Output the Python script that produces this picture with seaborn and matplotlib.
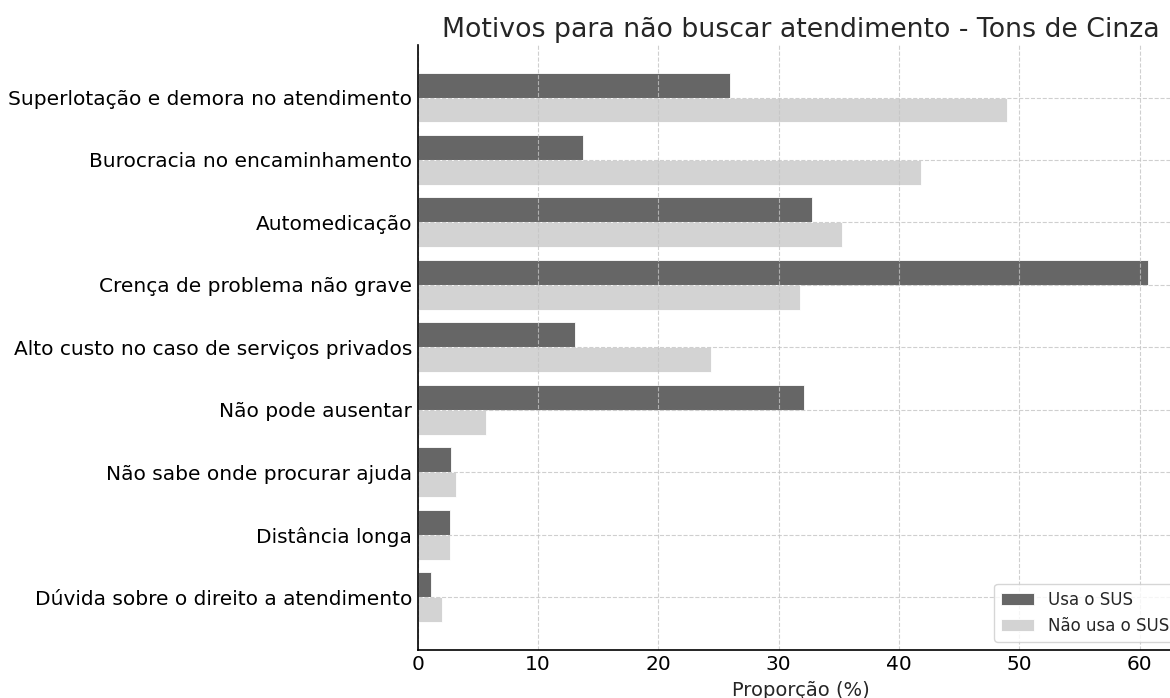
import matplotlib
matplotlib.use("Agg")
import matplotlib.pyplot as plt
import seaborn as sns
import pandas as pd

categories = [
    "Superlotação e demora no atendimento",
    "Burocracia no encaminhamento",
    "Automedicação",
    "Crença de problema não grave",
    "Alto custo no caso de serviços privados",
    "Não pode ausentar",
    "Não sabe onde procurar ajuda",
    "Distância longa",
    "Dúvida sobre o direito a atendimento",
]
usa_sus = [26.0, 13.7, 32.8, 60.7, 13.1, 32.1, 2.8, 2.7, 1.1]
nao_usa_sus = [49.0, 41.8, 35.3, 31.8, 24.4, 5.7, 3.2, 2.7, 2.0]
series_names = ["Usa o SUS", "Não usa o SUS"]
colors = ["#666666", "#d3d3d3"]

df = pd.DataFrame({
    "Motivo": categories * 2,
    "Proporção": usa_sus + nao_usa_sus,
    "Grupo": [series_names[0]] * len(categories) + [series_names[1]] * len(categories),
})

sns.set_style("white")
plt.rcParams["font.family"] = ["DejaVu Sans"]

fig = plt.figure(figsize=(11.7, 6.98), dpi=100)
ax = fig.add_axes([0.357, 0.069, 0.655, 0.8665])

sns.barplot(data=df, y="Motivo", x="Proporção", hue="Grupo", order=categories,
            hue_order=series_names, palette=colors, orient="h", ax=ax,
            edgecolor="white", linewidth=0.6, saturation=1, errorbar=None)

ax.set_xlim(0, 63.7)
ax.set_ylim(8.84, -0.84)
ax.set_xticks([0, 10, 20, 30, 40, 50, 60])

ax.grid(True, linestyle="--", color="#c4c4c4", linewidth=0.8, alpha=0.8)
ax.set_axisbelow(False)

for s in ["top", "right"]:
    ax.spines[s].set_visible(False)
for s in ["left", "bottom"]:
    ax.spines[s].set_color("black")
    ax.spines[s].set_linewidth(1.2)
    ax.spines[s].set_zorder(4)

ax.tick_params(axis="both", direction="in", length=5, width=1.2, colors="black",
               labelsize=14.5, pad=4)

ax.set_ylabel("")
ax.set_xlabel("Proporção (%)", fontsize=14, labelpad=5)
ax.set_title("Motivos para não buscar atendimento - Tons de Cinza", fontsize=19.3,
             pad=6, color="#262626")

leg = ax.legend(loc="lower right", fontsize=12, frameon=True, framealpha=0.8,
                fancybox=True, title=None)
leg.get_frame().set_edgecolor("#cccccc")
leg.set_zorder(5)

fig.savefig("out.png", dpi=100)
